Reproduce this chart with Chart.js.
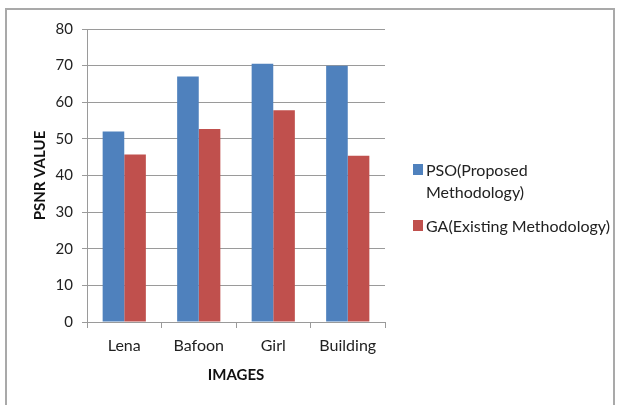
<!DOCTYPE html>
<html>
<head>
<meta charset="utf-8">
<script src="https://cdn.jsdelivr.net/npm/chart.js@4.4.1/dist/chart.umd.min.js"></script>
<style>
  html, body { margin: 0; padding: 0; background: #fff; }
  #wrap { position: relative; width: 620px; height: 405px; overflow: hidden; }
  #frame { position: absolute; left: 5px; top: 8px; width: 610px; height: 410px; border: 2px solid #a9a9a9; box-sizing: border-box; }
  #c { position: absolute; left: 0; top: 0; }
  #legend { position: absolute; left: 413px; top: 159px; width: 200px; font-family: Lato, "Open Sans", sans-serif; font-size: 16px; color: #222; }
  .item { position: relative; padding-left: 13px; line-height: 22px; margin-bottom: 12px; }
  .sw { position: absolute; left: 0; top: 5px; width: 10px; height: 11px; }
</style>
</head>
<body>
<div id="wrap">
  <div id="frame"></div>
  <canvas id="c" width="620" height="405"></canvas>
  <div id="legend"></div>
</div>
<script>
const categories = ["Lena", "Bafoon", "Girl", "Building"];
const seriesNames = ["PSO(Proposed Methodology)", "GA(Existing Methodology)"];
const psoValues = [52, 67, 70.5, 70];
const gaValues = [45.7, 52.7, 57.8, 45.4];
const yTicks = [0, 10, 20, 30, 40, 50, 60, 70, 80];
const colors = ["#4F81BD", "#C0504D"];

const FONT = "Lato, 'Open Sans', sans-serif";

const chart = new Chart(document.getElementById("c"), {
  type: "bar",
  data: {
    labels: categories,
    datasets: [
      { label: seriesNames[0], data: psoValues, backgroundColor: colors[0], categoryPercentage: 0.58, barPercentage: 1.0 },
      { label: seriesNames[1], data: gaValues, backgroundColor: colors[1], categoryPercentage: 0.58, barPercentage: 1.0 }
    ]
  },
  options: {
    responsive: false,
    animation: false,
    layout: { padding: { left: 0, top: 29, right: 235, bottom: 0 } },
    plugins: { legend: { display: false }, tooltip: { enabled: false } },
    scales: {
      x: {
        grid: { display: true, drawOnChartArea: false, drawTicks: true, tickLength: 6, color: "#9a9a9a", offset: true },
        border: { color: "#9a9a9a", width: 1 },
        ticks: { font: { family: FONT, size: 16 }, color: "#222", padding: 8 },
        title: { display: true, text: "IMAGES", font: { family: FONT, size: 15, weight: "bold" }, color: "#111", padding: { top: 0, bottom: 21 } },
        afterFit: (s) => { s.height = 83; }
      },
      y: {
        min: 0, max: 80,
        afterBuildTicks: (s) => { s.ticks = yTicks.map(v => ({ value: v })); },
        grid: { color: "#9a9a9a", tickLength: 5, drawTicks: true },
        border: { color: "#9a9a9a", width: 1 },
        ticks: { font: { family: FONT, size: 15 }, color: "#222", padding: 9 },
        title: { display: true, text: "PSNR VALUE", font: { family: FONT, size: 15, weight: "bold" }, color: "#111", padding: { top: 31, bottom: 0 } },
        afterFit: (s) => { s.width = 87; }
      }
    }
  }
});

const legend = document.getElementById("legend");
chart.data.datasets.forEach((ds) => {
  const item = document.createElement("div");
  item.className = "item";
  const sw = document.createElement("span");
  sw.className = "sw";
  sw.style.background = ds.backgroundColor;
  item.appendChild(sw);
  item.appendChild(document.createTextNode(ds.label));
  legend.appendChild(item);
});
</script>
</body>
</html>
